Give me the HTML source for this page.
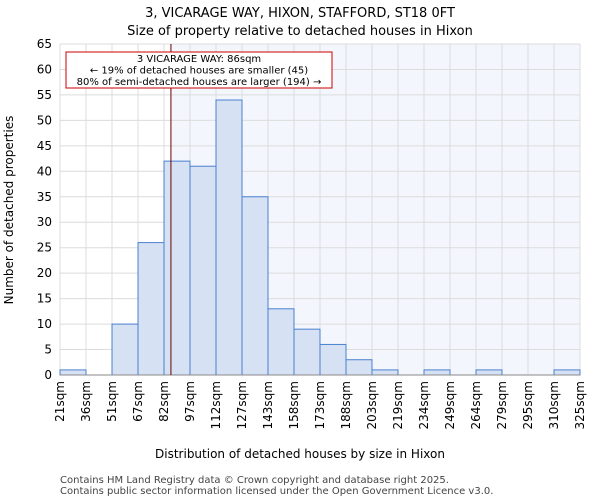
<!DOCTYPE html>
<html><head><meta charset="utf-8"><style>
body{margin:0;background:#fff;font-family:"DejaVu Sans","Liberation Sans",sans-serif;}
</style></head><body>
<svg id="chart" width="600" height="500" xmlns="http://www.w3.org/2000/svg" font-family="DejaVu Sans, Liberation Sans, sans-serif">
<text x="300" y="17" text-anchor="middle" font-size="13">3, VICARAGE WAY, HIXON, STAFFORD, ST18 0FT</text>
<text x="300" y="35" text-anchor="middle" font-size="13">Size of property relative to detached houses in Hixon</text>
<g id="plot"></g>
<text x="300" y="458" text-anchor="middle" font-size="12">Distribution of detached houses by size in Hixon</text>
<text transform="translate(13,210) rotate(-90)" text-anchor="middle" font-size="12">Number of detached properties</text>
<text x="60" y="483" font-size="10" fill="#444">Contains HM Land Registry data © Crown copyright and database right 2025.</text>
<text x="60" y="494" font-size="10" fill="#444">Contains public sector information licensed under the Open Government Licence v3.0.</text>
</svg>
<script>
const binLabels=["21sqm","36sqm","51sqm","67sqm","82sqm","97sqm","112sqm","127sqm","143sqm","158sqm","173sqm","188sqm","203sqm","219sqm","234sqm","249sqm","264sqm","279sqm","295sqm","310sqm","325sqm"];
const binEdges=[21,36,51,67,82,97,112,127,143,158,173,188,203,219,234,249,264,279,295,310,325];
const counts=[1,0,10,26,42,41,54,35,13,9,6,3,1,0,1,0,1,0,0,1];
const yTicks=[0,5,10,15,20,25,30,35,40,45,50,55,60,65];
const markerValue=86;
const NS="http://www.w3.org/2000/svg";
const L=60,R=580,T=44,B=375,yMax=65,n=counts.length;
const bw=(R-L)/n;
const x=i=>L+i*bw;
const y=v=>B-(v/yMax)*(B-T);
function xv(v){for(let i=0;i<binEdges.length-1;i++){if(v>=binEdges[i]&&v<=binEdges[i+1])return x(i)+(v-binEdges[i])/(binEdges[i+1]-binEdges[i])*bw;}return R;}
const g=document.getElementById('plot');
function mk(t,a){const e=document.createElementNS(NS,t);for(const k in a)e.setAttribute(k,a[k]);g.appendChild(e);return e;}
const mx=xv(markerValue);
let e=mk('rect',{x:mx,y:T,width:R-mx,height:B-T,fill:'#f4f6fd'});


yTicks.forEach(t=>{
 let l=mk('line',{x1:L,x2:R,y1:y(t),y2:y(t),stroke:'#dcdcdc'});
 
 
 let tx=mk('text',{x:L-8,y:y(t)+4,'text-anchor':'end','font-size':'12'});
 tx.textContent=t;
 
 
});
binLabels.forEach((lb,i)=>{
 let l=mk('line',{x1:x(i),x2:x(i),y1:T,y2:B,stroke:'#dcdcdc'});
 
 
 let tx=mk('text',{transform:`translate(${x(i)+4},${B+6}) rotate(-90)`,'text-anchor':'end','font-size':'12'});
 tx.textContent=lb;
 
 
});
counts.forEach((c,i)=>{
 if(c<=0)return;
 let r=mk('rect',{x:x(i),y:y(c),width:bw,height:B-y(c),fill:'#d6e1f3',stroke:'#4a80d0','stroke-width':1});
 
 
});
let ax=mk('line',{x1:L,x2:R,y1:B,y2:B,stroke:'#888'});


let ml=mk('line',{x1:mx,x2:mx,y1:T,y2:B,stroke:'#6b0000','stroke-width':1});


let box=mk('rect',{x:66,y:52,width:266,height:36,fill:'#fff',stroke:'#cc0000','stroke-width':1});


const ann=["3 VICARAGE WAY: 86sqm","← 19% of detached houses are smaller (45)","80% of semi-detached houses are larger (194) →"];
ann.forEach((s,i)=>{
 let t=mk('text',{x:199,y:62+i*11.5,'text-anchor':'middle','font-size':'10'});
 t.textContent=s;
 
 
});
</script>
</body></html>
